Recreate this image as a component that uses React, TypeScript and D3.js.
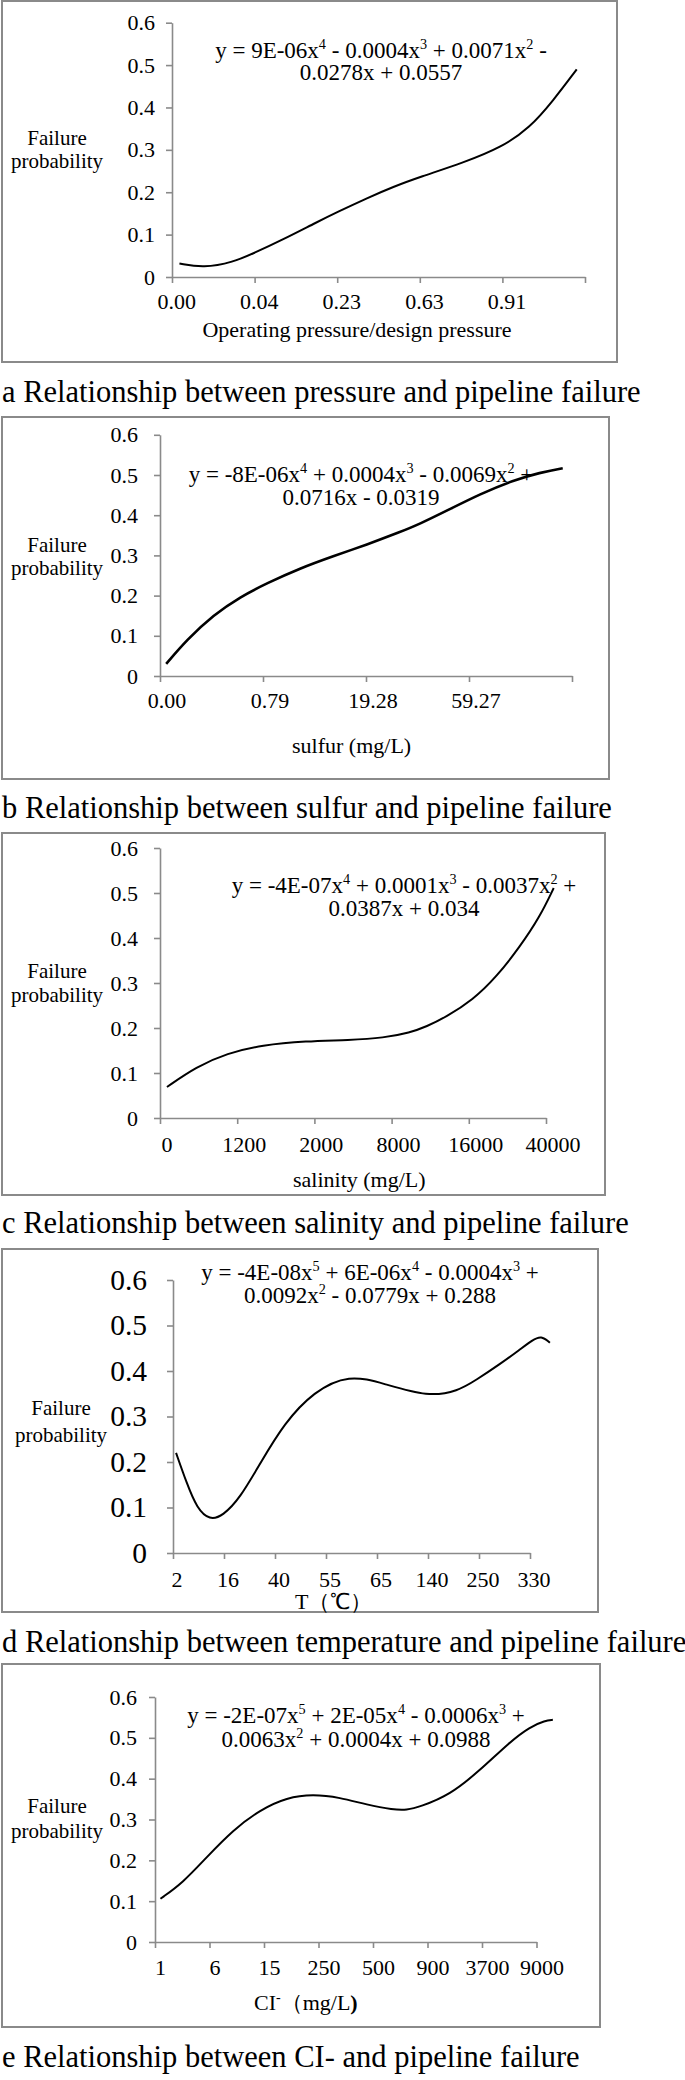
import { useEffect, useRef } from 'react';
import * as d3 from 'd3';

type Pt = [number, number];

const W = 685;
const H = 2080;
const FONT = '"Liberation Serif", "Times New Roman", serif';
const GREY = '#8a8a8a';

const yTicks = [0, 0.1, 0.2, 0.3, 0.4, 0.5, 0.6];

// a - pressure (x in tick units)
const pressureLabels = ['0.00', '0.04', '0.23', '0.63', '0.91'];
const pressureCurve: Pt[] = [
  [0.09, 0.032], [0.38, 0.021], [0.74, 0.035], [1.0, 0.057], [1.34, 0.088], [1.76, 0.13],
  [2.0, 0.153], [2.36, 0.186], [2.68, 0.213], [3.0, 0.236], [3.52, 0.269], [4.0, 0.307],
  [4.33, 0.352], [4.61, 0.415], [4.9, 0.49],
];
const pressureEquation = ['y = 9E-06x^4 - 0.0004x^3 + 0.0071x^2 -', '0.0278x + 0.0557'];

// b - sulfur
const sulfurLabels = ['0.00', '0.79', '19.28', '59.27'];
const sulfurCurve: Pt[] = [
  [0.06, 0.03], [0.26, 0.09], [0.52, 0.152], [0.78, 0.197], [1.04, 0.231], [1.36, 0.268],
  [1.68, 0.298], [2.01, 0.327], [2.33, 0.358], [2.52, 0.378], [2.79, 0.412], [3.11, 0.453],
  [3.43, 0.487], [3.69, 0.506], [3.91, 0.517],
];
const sulfurEquation = ['y = -8E-06x^4 + 0.0004x^3 - 0.0069x^2 +', '0.0716x - 0.0319'];

// c - salinity
const salinityLabels = ['0', '1200', '2000', '8000', '16000', '40000'];
const salinityCurve: Pt[] = [
  [0.09, 0.069], [0.47, 0.114], [0.87, 0.144], [1.32, 0.162], [1.89, 0.171], [2.45, 0.173],
  [2.9, 0.178], [3.24, 0.19], [3.45, 0.203], [3.71, 0.225], [4.05, 0.262], [4.36, 0.314],
  [4.66, 0.38], [4.92, 0.447], [5.1, 0.511],
];
const salinityEquation = ['y = -4E-07x^4 + 0.0001x^3 - 0.0037x^2 +', '0.0387x + 0.034'];

// d - temperature
const temperatureLabels = ['2', '16', '40', '55', '65', '140', '250', '330'];
const temperatureCurve: Pt[] = [
  [0.06, 0.22], [0.27, 0.153], [0.47, 0.098], [0.72, 0.072], [0.98, 0.082], [1.31, 0.12],
  [1.71, 0.197], [2.18, 0.285], [2.76, 0.355], [3.45, 0.393], [4.14, 0.372], [5.0, 0.343],
  [5.59, 0.356], [5.94, 0.38], [6.41, 0.415], [6.8, 0.447], [7.05, 0.468], [7.22, 0.478], [7.39, 0.462],
];
const temperatureEquation = ['y = -4E-08x^5 + 6E-06x^4 - 0.0004x^3 +', '0.0092x^2 - 0.0779x + 0.288'];

// e - chloride
const chlorideLabels = ['1', '6', '15', '250', '500', '900', '3700', '9000'];
const chlorideCurve: Pt[] = [
  [0.1, 0.106], [0.51, 0.145], [0.95, 0.208], [1.43, 0.274], [1.93, 0.324], [2.42, 0.354],
  [2.9, 0.362], [3.39, 0.354], [3.89, 0.336], [4.37, 0.324], [4.62, 0.323], [4.86, 0.331],
  [5.41, 0.36], [5.96, 0.42], [6.51, 0.49], [6.88, 0.527], [7.16, 0.542], [7.3, 0.544],
];
const chlorideEquation = ['y = -2E-07x^5 + 2E-05x^4 - 0.0006x^3 +', '0.0063x^2 + 0.0004x + 0.0988'];

interface Layout {
  frame: [number, number, number, number];
  x0: number; step: number; nTicks: number; labelOffset: number;
  y0: number; yTop: number;
  yTickFont: number; yPad: number;
  xLabelBase: number;
  yTitle: [number, number, number];
  eq: [number, number, number];
  xTitle: [number, number, string];
  captionBase: number;
  curveWidth: number;
}

interface Panel {
  labels: string[];
  curve: Pt[];
  equation: string[];
  xTitle: string;
  caption: string;
  layout: Layout;
}

const panels: Panel[] = [
  {
    labels: pressureLabels, curve: pressureCurve, equation: pressureEquation,
    xTitle: 'Operating pressure/design pressure',
    caption: 'a Relationship between pressure and pipeline failure',
    layout: {
      frame: [2, 1, 617, 362], x0: 172, step: 82.6, nTicks: 6, labelOffset: 0.056,
      y0: 277, yTop: 22.7, yTickFont: 22, yPad: 11, xLabelBase: 309,
      yTitle: [57, 145, 168], eq: [381, 58, 80], xTitle: [357, 337, 'middle'],
      captionBase: 402, curveWidth: 2,
    },
  },
  {
    labels: sulfurLabels, curve: sulfurCurve, equation: sulfurEquation,
    xTitle: 'sulfur (mg/L)',
    caption: 'b Relationship between sulfur and pipeline failure',
    layout: {
      frame: [2, 417, 609, 779], x0: 160, step: 103, nTicks: 5, labelOffset: 0.068,
      y0: 676, yTop: 434.8, yTickFont: 22, yPad: 16, xLabelBase: 708,
      yTitle: [57, 552, 575], eq: [361, 482, 505], xTitle: [292, 753, 'start'],
      captionBase: 818, curveWidth: 2.6,
    },
  },
  {
    labels: salinityLabels, curve: salinityCurve, equation: salinityEquation,
    xTitle: 'salinity (mg/L)',
    caption: 'c Relationship between salinity and pipeline failure',
    layout: {
      frame: [2, 833, 605, 1195], x0: 160, step: 77.2, nTicks: 6, labelOffset: 0.09,
      y0: 1118, yTop: 848, yTickFont: 22, yPad: 16, xLabelBase: 1152,
      yTitle: [57, 978, 1002], eq: [404, 893, 916], xTitle: [293, 1187, 'start'],
      captionBase: 1233, curveWidth: 2,
    },
  },
  {
    labels: temperatureLabels, curve: temperatureCurve, equation: temperatureEquation,
    xTitle: 'T（℃）',
    caption: 'd Relationship between temperature and pipeline failure',
    layout: {
      frame: [2, 1249, 598, 1612], x0: 173, step: 51, nTicks: 8, labelOffset: 0.08,
      y0: 1553, yTop: 1280, yTickFont: 29.5, yPad: 20, xLabelBase: 1587,
      yTitle: [61, 1415, 1442], eq: [370, 1280, 1303], xTitle: [295, 1609, 'start'],
      captionBase: 1652, curveWidth: 2,
    },
  },
  {
    labels: chlorideLabels, curve: chlorideCurve, equation: chlorideEquation,
    xTitle: 'CI-（mg/L)',
    caption: 'e Relationship between CI- and pipeline failure',
    layout: {
      frame: [2, 1664, 600, 2027], x0: 155, step: 54.5, nTicks: 8, labelOffset: 0.1,
      y0: 1942, yTop: 1697, yTickFont: 22, yPad: 12, xLabelBase: 1975,
      yTitle: [57, 1813, 1838], eq: [356, 1723, 1747], xTitle: [254, 2010, 'start'],
      captionBase: 2067, curveWidth: 2,
    },
  },
];

// writes "x^4" style text as tspans with superscripts
const writeSup = (text: d3.Selection<SVGTextElement, unknown, null, undefined>, line: string, size: number) => {
  const parts = line.split(/\^(\d)/);
  const shift = size * 0.38;
  let raised = false;
  parts.forEach((part, i) => {
    if (!part) return;
    const sup = i % 2 === 1;
    const t = text.append('tspan').text(part);
    if (sup) {
      t.attr('font-size', size * 0.62).attr('dy', -shift);
      raised = true;
    } else if (raised) {
      t.attr('dy', shift);
      raised = false;
    }
  });
};

const drawPanel = (svg: d3.Selection<SVGSVGElement, unknown, null, undefined>, p: Panel) => {
  const L = p.layout;
  const g = svg.append('g').attr('font-family', FONT).attr('fill', 'black');

  g.append('rect')
    .attr('x', L.frame[0]).attr('y', L.frame[1])
    .attr('width', L.frame[2] - L.frame[0]).attr('height', L.frame[3] - L.frame[1])
    .attr('fill', 'none').attr('stroke', GREY).attr('stroke-width', 2);

  const y = d3.scaleLinear().domain([0, 0.6]).range([L.y0, L.yTop]);
  const x = d3.scaleLinear().domain([0, L.nTicks - 1]).range([L.x0, L.x0 + L.step * (L.nTicks - 1)]);

  // Y axis
  const yAxis = g.append('g')
    .attr('transform', `translate(${L.x0},0)`)
    .call(d3.axisLeft(y).tickValues(yTicks).tickFormat(d3.format('~g')).tickSize(6).tickSizeOuter(0).tickPadding(L.yPad));

  // X axis (ticks only, labels drawn separately)
  const xAxis = g.append('g')
    .attr('transform', `translate(0,${L.y0})`)
    .call(d3.axisBottom(x).tickValues(d3.range(L.nTicks)).tickFormat(() => '').tickSize(6).tickSizeOuter(0));

  [yAxis, xAxis].forEach(a => {
    a.attr('font-family', FONT);
    a.select('.domain').attr('stroke', GREY).attr('stroke-width', 1.6);
    a.selectAll('.tick line').attr('stroke', GREY).attr('stroke-width', 1.6);
  });
  yAxis.selectAll('.tick text')
    .attr('font-family', FONT).attr('font-size', L.yTickFont).attr('fill', 'black');

  g.selectAll('.xlabel')
    .data(p.labels)
    .enter().append('text')
    .attr('class', 'xlabel')
    .attr('x', (_d, i) => x(i + L.labelOffset))
    .attr('y', L.xLabelBase)
    .attr('text-anchor', 'middle')
    .attr('font-size', 22)
    .text(d => d);

  // trendline
  const line = d3.line<Pt>()
    .x(d => x(d[0]))
    .y(d => y(d[1]))
    .curve(d3.curveBasis);

  g.append('path')
    .datum(p.curve)
    .attr('d', line)
    .attr('fill', 'none')
    .attr('stroke', 'black')
    .attr('stroke-width', L.curveWidth);

  // y title
  g.append('text').attr('x', L.yTitle[0]).attr('y', L.yTitle[1])
    .attr('text-anchor', 'middle').attr('font-size', 21).text('Failure');
  g.append('text').attr('x', L.yTitle[0]).attr('y', L.yTitle[2])
    .attr('text-anchor', 'middle').attr('font-size', 21).text('probability');

  // equation
  p.equation.forEach((ln, i) => {
    const t = g.append('text')
      .attr('x', L.eq[0]).attr('y', L.eq[1 + i])
      .attr('text-anchor', 'middle').attr('font-size', 23);
    writeSup(t, ln, 23);
  });

  // x title
  const xt = g.append('text')
    .attr('x', L.xTitle[0]).attr('y', L.xTitle[1])
    .attr('text-anchor', L.xTitle[2]).attr('font-size', 22);
  if (p.xTitle.startsWith('CI-')) {
    xt.append('tspan').text('CI');
    xt.append('tspan').attr('font-size', 14).attr('dy', -8).text('-');
    xt.append('tspan').attr('dy', 8).text('（mg/L');
    xt.append('tspan').attr('font-weight', 'bold').text(')');
  } else {
    xt.text(p.xTitle);
  }

  // caption
  g.append('text')
    .attr('x', 2).attr('y', L.captionBase)
    .attr('font-size', 30.5)
    .text(p.caption);
};

const App: React.FC = () => {
  const svgRef = useRef<SVGSVGElement>(null);

  useEffect(() => {
    if (!svgRef.current) return;
    const svg = d3.select(svgRef.current);
    svg.selectAll('*').remove();
    svg.append('rect').attr('width', W).attr('height', H).attr('fill', 'white');
    panels.forEach(p => drawPanel(svg, p));
  }, []);

  return (
    <svg ref={svgRef} width={W} height={H}
      style={{ position: 'absolute', left: 0, top: 0, display: 'block' }} />
  );
};

export default App;
